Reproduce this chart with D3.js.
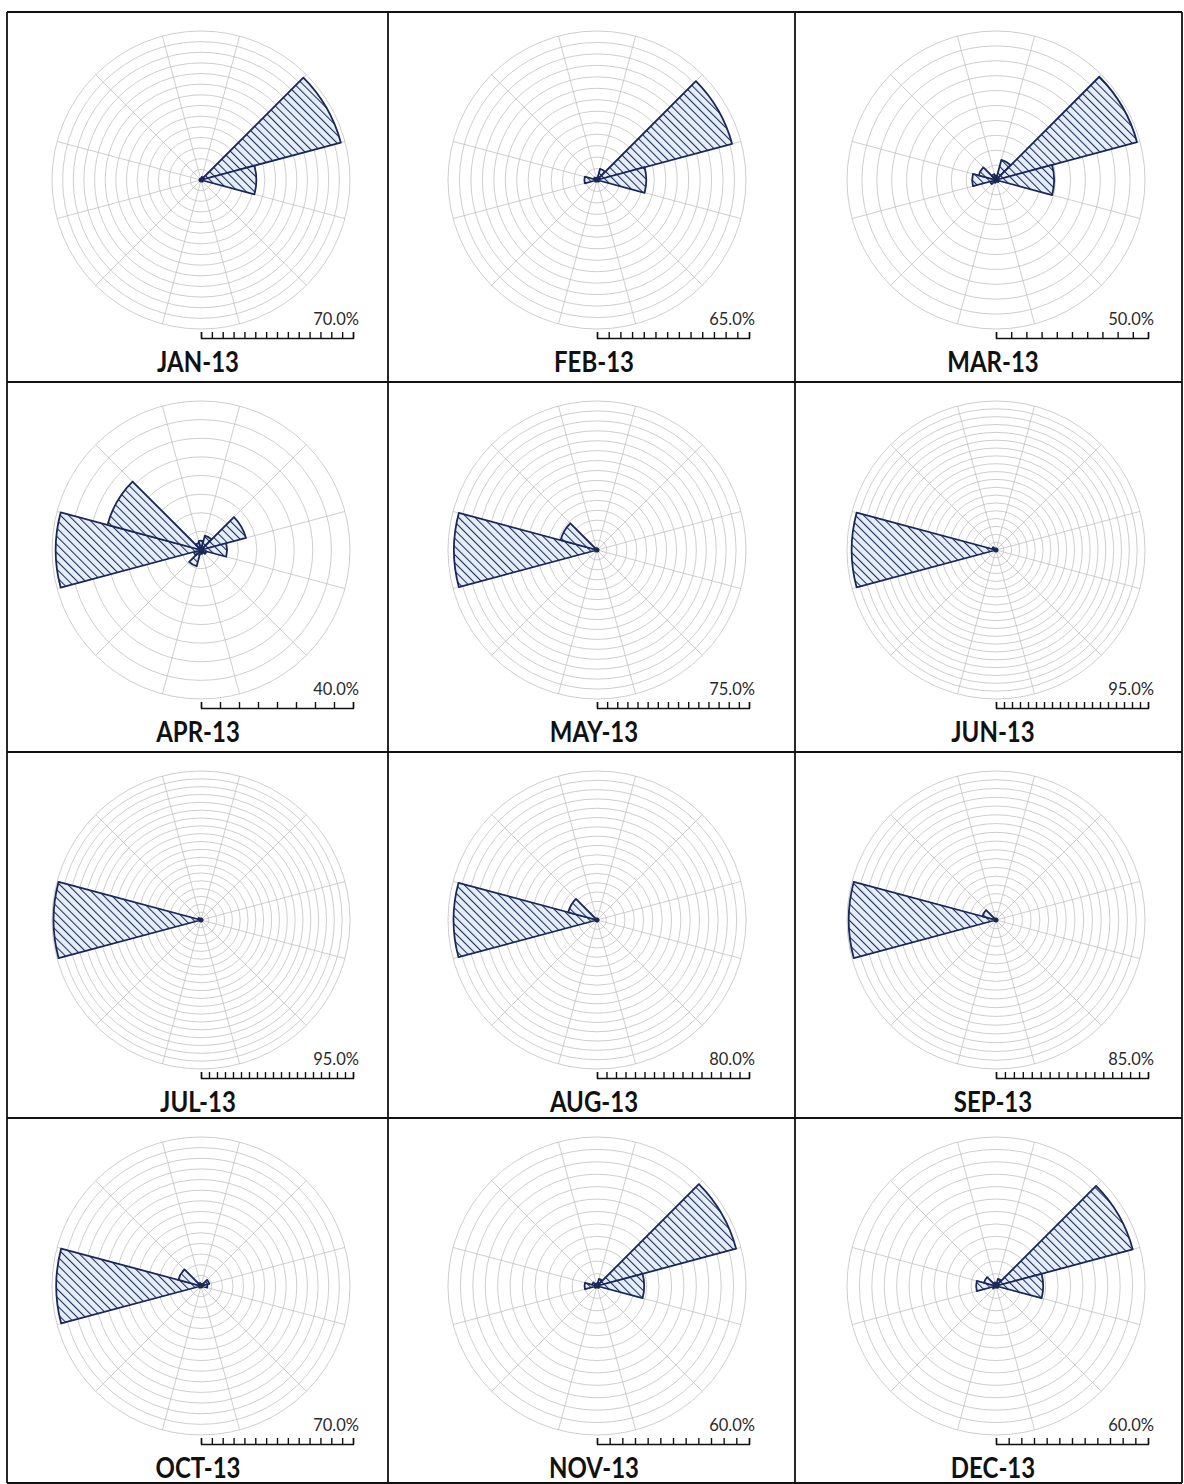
<!DOCTYPE html>
<html>
<head>
<meta charset="utf-8">
<script src="https://cdn.jsdelivr.net/npm/d3@7"></script>
<style>
  body { margin: 0; background: #fff; }
  svg { display: block; }
</style>
</head>
<body>
<div id="chart"></div>
<script>
// 12 direction sectors, bearings in degrees (clockwise from north)
const directions = [0, 30, 60, 90, 120, 150, 180, 210, 240, 270, 300, 330];
const months = ['JAN-13', 'FEB-13', 'MAR-13', 'APR-13', 'MAY-13', 'JUN-13',
  'JUL-13', 'AUG-13', 'SEP-13', 'OCT-13', 'NOV-13', 'DEC-13'];
// scale maximum shown under each rose (%)
const scaleMax = [70, 65, 50, 40, 75, 95, 95, 80, 85, 70, 60, 60];

// frequency (%) per direction
const jan = [0.5, 1.5, 68, 26, 1, 0.5, 0.3, 0.3, 0.3, 0.5, 0.5, 0.5];
const feb = [1, 5, 61, 21.5, 1, 0.5, 0.5, 0.5, 1, 5.5, 1.5, 1];
const mar = [1.5, 7, 49, 19.5, 1, 0.5, 0.5, 1, 2, 8, 6, 2];
const apr = [2.5, 4, 12.5, 7, 1.5, 1, 1, 4.5, 2, 39, 26, 2];
const may = [0.5, 0.5, 0.5, 0.5, 0.3, 0.3, 0.3, 0.3, 1, 72, 19, 1];
const jun = [0.3, 0.3, 0.3, 0.3, 0.3, 0.3, 0.3, 0.3, 0.5, 92, 2.5, 0.5];
const jul = [0.3, 0.3, 0.3, 0.3, 0.3, 0.3, 0.3, 0.3, 0.5, 94, 2, 0.5];
const aug = [0.3, 0.3, 0.3, 0.3, 0.3, 0.3, 0.3, 0.3, 0.5, 77, 16, 0.5];
const sep = [0.3, 0.3, 0.3, 0.3, 0.3, 0.3, 0.3, 0.3, 0.5, 84, 8, 0.5];
const oct = [1, 1, 4, 3, 0.5, 0.5, 0.5, 0.5, 1, 68, 11, 1.5];
const nov = [1, 3, 58, 19, 1, 0.5, 0.5, 0.5, 1, 5, 2, 1];
const dec = [1, 3, 57, 19, 1, 0.5, 0.5, 0.5, 1.5, 8, 5, 1.5];
const freqs = [jan, feb, mar, apr, may, jun, jul, aug, sep, oct, nov, dec];

const W = 1184, H = 1484;
const colX = [7, 388, 795, 1182];
const rowY = [12, 382, 752, 1118, 1483];
const centreX = [201, 597, 996];
const R = 149;
const ringStep = 5;

const navy = '#1a2858';
const gridColor = '#c2c2c2';

const svg = d3.select('#chart')
  .append('svg')
  .attr('width', W)
  .attr('height', H);

const defs = svg.append('defs');
const pat = defs.append('pattern')
  .attr('id', 'hatch')
  .attr('patternUnits', 'userSpaceOnUse')
  .attr('width', 5.8)
  .attr('height', 5.8)
  .attr('patternTransform', 'rotate(-45)');
pat.append('rect').attr('width', 5.8).attr('height', 5.8).attr('fill', '#e6eef9');
pat.append('line')
  .attr('x1', 0).attr('y1', 0).attr('x2', 0).attr('y2', 5.8)
  .attr('stroke', '#1b2b5a').attr('stroke-width', 2.1);

const toRad = d => d * Math.PI / 180;

months.forEach((name, i) => {
  const col = i % 3, row = Math.floor(i / 3);
  const cx = centreX[col];
  const top = rowY[row];
  const cy = top + 168;
  const max = scaleMax[i];
  const data = freqs[i];

  const rScale = d3.scaleLinear().domain([0, max]).range([0, R]);
  const g = svg.append('g').attr('transform', `translate(${cx},${cy})`);

  // rings every 5%
  g.selectAll('.ring')
    .data(d3.range(ringStep, max + 0.001, ringStep))
    .enter()
    .append('circle')
    .attr('class', 'ring')
    .attr('r', d => rScale(d))
    .attr('fill', 'none')
    .attr('stroke', gridColor)
    .attr('stroke-width', 0.8);

  // spokes on sector boundaries
  g.selectAll('.spoke')
    .data(directions.map(d => d + 15))
    .enter()
    .append('line')
    .attr('class', 'spoke')
    .attr('x1', 0).attr('y1', 0)
    .attr('x2', d => d3.pointRadial(toRad(d), rScale(max))[0])
    .attr('y2', d => d3.pointRadial(toRad(d), rScale(max))[1])
    .attr('stroke', gridColor)
    .attr('stroke-width', 0.8);

  // petals
  const arc = d3.arc()
    .innerRadius(0)
    .outerRadius(d => rScale(d.value))
    .startAngle(d => toRad(d.dir - 15))
    .endAngle(d => toRad(d.dir + 15));

  g.selectAll('.petal')
    .data(directions.map((d, j) => ({ dir: d, value: data[j] })))
    .enter()
    .append('path')
    .attr('class', 'petal')
    .attr('d', arc)
    .attr('fill', 'url(#hatch)')
    .attr('stroke', navy)
    .attr('stroke-width', 1.8)
    .attr('stroke-linejoin', 'round');

  g.append('circle').attr('r', 2.5).attr('fill', navy);

  // scale bar
  const xs = d3.scaleLinear().domain([0, max]).range([0, R + 3]);
  const bar = svg.append('g')
    .attr('transform', `translate(${cx},${top + 326})`)
    .call(d3.axisTop(xs)
      .tickValues(d3.range(0, max + 0.001, ringStep))
      .tickSize(6)
      .tickSizeOuter(6)
      .tickFormat(''));
  bar.selectAll('path, line').attr('stroke', '#111').attr('stroke-width', 1.4);
  bar.selectAll('text').remove();

  svg.append('text')
    .attr('x', cx + R + 9)
    .attr('y', top + 313)
    .attr('text-anchor', 'end')
    .style('font-family', 'Lato, sans-serif')
    .style('font-size', '16.5px')
    .attr('fill', '#2a2a2a')
    .text(max.toFixed(1) + '%');

  svg.append('text')
    .attr('transform', `translate(${cx - 3},${top + 360}) scale(1,1.2)`)
    .attr('text-anchor', 'middle')
    .style('font-family', 'Lato, sans-serif')
    .style('font-weight', 'bold')
    .style('font-size', '24px')
    .attr('fill', '#111')
    .text(name);
});

// panel frame
svg.selectAll('.vline')
  .data(colX)
  .enter()
  .append('line')
  .attr('x1', d => d).attr('x2', d => d)
  .attr('y1', rowY[0]).attr('y2', rowY[4])
  .attr('stroke', '#111').attr('stroke-width', 1.8);

svg.selectAll('.hline')
  .data(rowY)
  .enter()
  .append('line')
  .attr('y1', d => d).attr('y2', d => d)
  .attr('x1', colX[0]).attr('x2', colX[3])
  .attr('stroke', '#111').attr('stroke-width', 1.8);
</script>
</body>
</html>
